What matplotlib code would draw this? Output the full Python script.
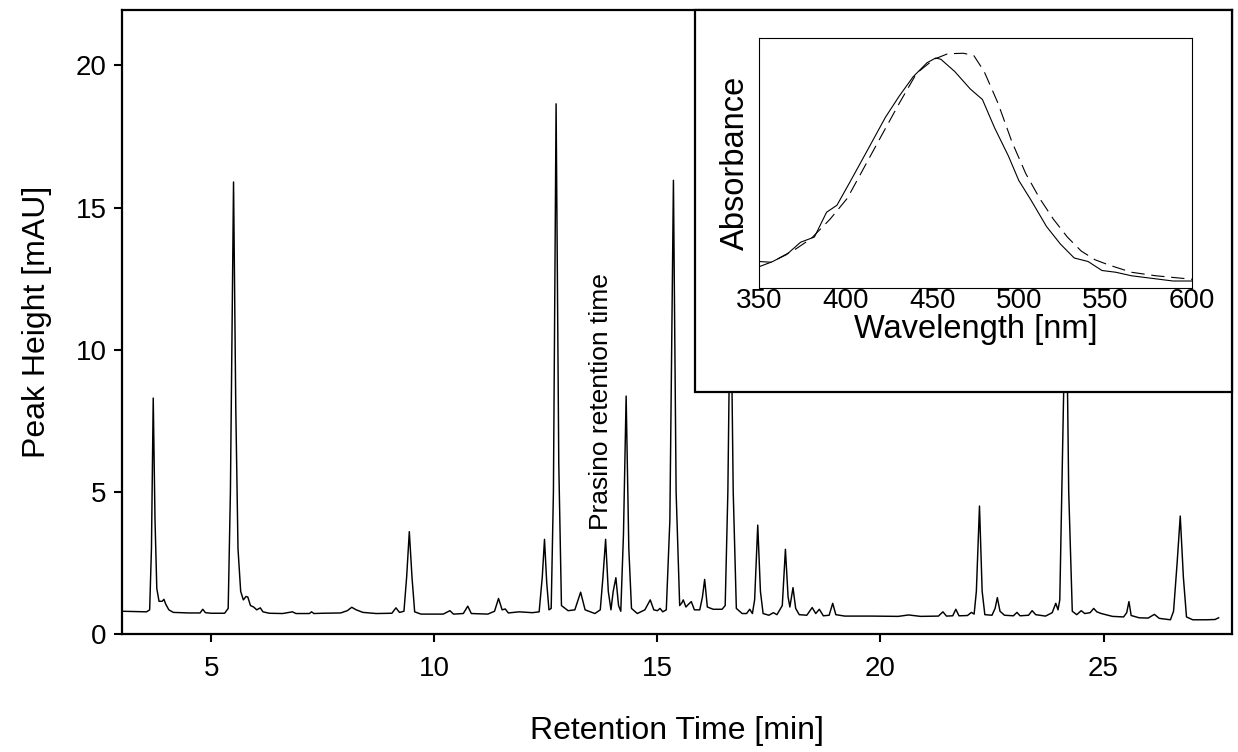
import matplotlib
matplotlib.use('Agg')
import matplotlib.pyplot as plt
from matplotlib.patches import Rectangle

plt.rcParams['font.family'] = ['Liberation Sans', 'DejaVu Sans']

# Chromatogram trace (retention time [min], peak height [mAU])
rt = [3.0, 3.3, 3.55, 3.62, 3.66, 3.70, 3.74, 3.78, 3.83, 3.90, 3.94, 3.98, 4.05, 4.15, 4.5, 4.75, 4.81, 4.87,
      5.0, 5.30, 5.38, 5.43, 5.50, 5.55, 5.60, 5.66, 5.72, 5.78, 5.82, 5.88, 5.95, 6.02, 6.10, 6.16, 6.3, 6.6,
      6.82, 6.9, 7.2, 7.25, 7.3, 7.5, 7.9, 8.05, 8.15, 8.25, 8.4, 8.7, 9.05, 9.14, 9.22, 9.32, 9.38, 9.44,
      9.50, 9.56, 9.7, 10.2, 10.35, 10.43, 10.65, 10.75, 10.83, 11.2, 11.35, 11.44, 11.52, 11.59, 11.66, 11.9,
      12.2, 12.35, 12.42, 12.47, 12.52, 12.57, 12.62, 12.67, 12.73, 12.79, 12.85, 13.0, 13.15, 13.28, 13.38,
      13.6, 13.72, 13.78, 13.84, 13.90, 13.96, 14.01, 14.07, 14.13, 14.18, 14.24, 14.30, 14.36, 14.42, 14.55,
      14.72, 14.84, 14.92, 15.0, 15.06, 15.12, 15.2, 15.28, 15.36, 15.42, 15.50, 15.55, 15.58, 15.64, 15.70,
      15.76, 15.83, 15.95, 16.01, 16.06, 16.12, 16.25, 16.45, 16.52, 16.58, 16.64, 16.70, 16.77, 16.9, 17.0,
      17.07, 17.13, 17.18, 17.25, 17.31, 17.37, 17.5, 17.60, 17.68, 17.80, 17.87, 17.93, 17.97, 18.04, 18.10,
      18.18, 18.35, 18.47, 18.55, 18.63, 18.72, 18.85, 18.93, 19.0, 19.2, 19.8, 20.4, 20.63, 20.9, 21.3, 21.40,
      21.48, 21.62, 21.69, 21.76, 21.95, 22.04, 22.10, 22.15, 22.22, 22.28, 22.34, 22.5, 22.57, 22.62, 22.68,
      22.78, 22.98, 23.06, 23.13, 23.32, 23.40, 23.48, 23.7, 23.85, 23.93, 23.98, 24.02, 24.10, 24.16, 24.22,
      24.30, 24.40, 24.50, 24.58, 24.7, 24.78, 24.85, 24.95, 25.2, 25.45, 25.52, 25.57, 25.62, 25.8, 26.0,
      26.14, 26.25, 26.5, 26.57, 26.65, 26.72, 26.79, 26.86, 27.0, 27.3, 27.5, 27.58]
signal = [0.80, 0.79, 0.78, 0.85, 3.0, 8.3, 4.0, 1.6, 1.15, 1.15, 1.22, 1.05, 0.85, 0.76, 0.74, 0.74, 0.87, 0.75,
          0.73, 0.73, 0.9, 5.0, 15.9, 8.0, 3.0, 1.5, 1.2, 1.32, 1.30, 1.0, 0.95, 0.85, 0.92, 0.78, 0.73, 0.72,
          0.78, 0.72, 0.72, 0.78, 0.72, 0.73, 0.74, 0.82, 0.94, 0.85, 0.76, 0.72, 0.73, 0.92, 0.76, 0.8, 2.0, 3.6,
          2.0, 0.78, 0.70, 0.70, 0.82, 0.70, 0.72, 0.98, 0.72, 0.70, 0.8, 1.25, 0.85, 0.88, 0.74, 0.78,
          0.75, 0.78, 2.0, 3.33, 1.8, 0.85, 0.9, 5.0, 18.65, 6.0, 1.0, 0.82, 0.85, 1.47, 0.85,
          0.72, 0.85, 2.0, 3.33, 1.5, 0.85, 1.5, 1.98, 1.0, 0.8, 3.5, 8.37, 3.0, 0.9, 0.72,
          0.85, 1.2, 0.85, 0.82, 0.9, 0.78, 0.85, 4.0, 15.96, 5.0, 1.0, 1.1, 1.2, 0.95, 1.05,
          1.14, 0.85, 0.85, 1.3, 1.92, 0.95, 0.87, 0.87, 1.0, 5.0, 13.0, 5.0, 0.9, 0.72, 0.72,
          0.87, 0.72, 1.2, 3.83, 1.5, 0.72, 0.66, 0.75, 0.68, 1.0, 2.98, 1.3, 0.95, 1.63, 0.9,
          0.68, 0.66, 0.93, 0.72, 0.87, 0.64, 0.66, 1.08, 0.68, 0.63, 0.63, 0.62, 0.67, 0.62, 0.63, 0.78,
          0.63, 0.64, 0.87, 0.64, 0.65, 0.76, 0.7, 1.5, 4.5, 1.5, 0.68, 0.66, 0.9, 1.28, 0.8,
          0.66, 0.64, 0.76, 0.64, 0.66, 0.82, 0.68, 0.63, 0.75, 1.08, 0.85, 1.2, 8.0, 13.0, 5.0,
          0.8, 0.68, 0.82, 0.72, 0.75, 0.9, 0.78, 0.72, 0.62, 0.6, 0.75, 1.14, 0.65, 0.57, 0.56,
          0.69, 0.55, 0.50, 0.8, 2.5, 4.15, 2.0, 0.6, 0.5, 0.50, 0.51, 0.57]

# Inset spectra (normalised absorbance)
wl_solid = [350, 357, 366, 374, 382, 389, 395, 403, 413, 423, 431, 439, 447, 452, 455, 463, 472, 479, 486,
            494, 500, 507, 516, 524, 532, 540, 548, 556, 565, 573, 589, 600]
abs_solid = [0.106, 0.103, 0.134, 0.183, 0.204, 0.303, 0.331, 0.43, 0.556, 0.683, 0.768, 0.845, 0.901, 0.92,
             0.915, 0.866, 0.796, 0.754, 0.641, 0.528, 0.43, 0.352, 0.246, 0.176, 0.12, 0.106, 0.07, 0.063,
             0.049, 0.042, 0.028, 0.028]
wl_dashed = [350, 358, 371, 380, 391, 401, 411, 421, 431, 441, 451, 459, 468, 474, 480, 488, 496, 504, 512,
             520, 528, 536, 544, 552, 565, 579, 600]
abs_dashed = [0.085, 0.106, 0.155, 0.197, 0.275, 0.359, 0.486, 0.613, 0.739, 0.859, 0.915, 0.937, 0.939,
              0.93, 0.866, 0.739, 0.585, 0.458, 0.359, 0.275, 0.204, 0.148, 0.113, 0.092, 0.063, 0.049, 0.035]

x_ticks = [5, 10, 15, 20, 25]
y_ticks = [0, 5, 10, 15, 20]
wl_ticks = [350, 400, 450, 500, 550, 600]

fig = plt.figure(figsize=(12.38, 7.52), dpi=100)
ax = fig.add_axes([122 / 1238, 118 / 752, 1110 / 1238, 624 / 752])
ax.plot(rt, signal, color='black', lw=1.05, zorder=2)
ax.set_xlim(3, 27.88)
ax.set_ylim(0, 21.95)
ax.set_xticks(x_ticks)
ax.set_yticks(y_ticks)
ax.tick_params(labelsize=20, width=1.5, length=6, direction='out')
ax.tick_params(axis='x', pad=10)
ax.tick_params(axis='y', pad=5)
for s in ax.spines.values():
    s.set_linewidth(1.6)
ax.set_xlabel('Retention Time [min]', fontsize=23, labelpad=24)
ax.set_ylabel('Peak Height [mAU]', fontsize=23, labelpad=17)
ax.text(13.74, 3.66, 'Prasino retention time', rotation=90, ha='center', va='bottom', fontsize=19)

# white framed box that holds the inset
ax.add_patch(Rectangle((0.516, 0.388), 0.484, 0.612, transform=ax.transAxes, facecolor='white',
                       edgecolor='black', lw=1.6, zorder=3, clip_on=False))

axi = fig.add_axes([759 / 1238, 464 / 752, 433 / 1238, 250 / 752])
axi.plot(wl_solid, abs_solid, color='black', lw=0.8)
axi.plot(wl_dashed, abs_dashed, color='black', lw=0.8, ls=(0, (12, 6)))
axi.set_xlim(350, 600)
axi.set_ylim(0, 1)
axi.set_xticks(wl_ticks)
axi.set_yticks([])
axi.tick_params(labelsize=20, length=0, pad=0)
for s in axi.spines.values():
    s.set_linewidth(0.8)
axi.set_xlabel('Wavelength [nm]', fontsize=23.5, labelpad=0)
axi.set_ylabel('Absorbance', fontsize=23.5, labelpad=6)

plt.savefig('out.png', dpi=100)
plt.close()
